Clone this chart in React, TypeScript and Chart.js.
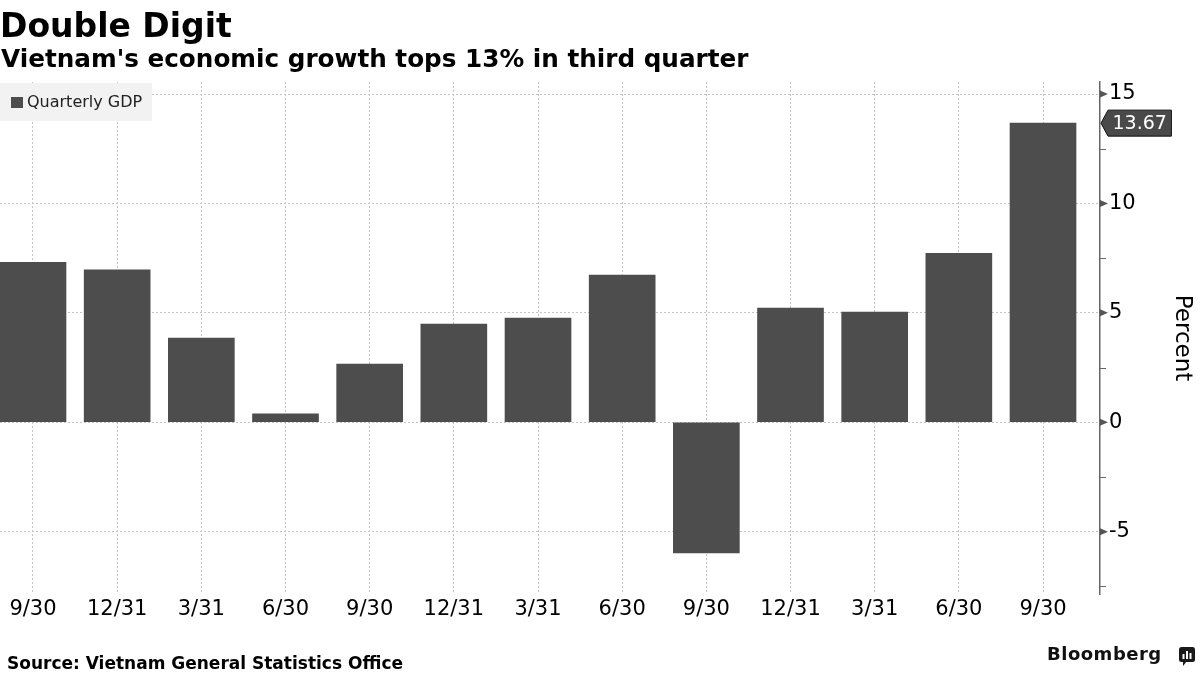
import React, { useEffect, useRef } from "react";
import { Chart, registerables } from "chart.js";

Chart.register(...registerables);

const categories = ["9/30", "12/31", "3/31", "6/30", "9/30", "12/31", "3/31", "6/30", "9/30", "12/31", "3/31", "6/30", "9/30"];
const gdpValues = [7.31, 6.97, 3.85, 0.39, 2.66, 4.49, 4.76, 6.73, -5.97, 5.22, 5.04, 7.72, 13.67];
const yTicks = [-5, 0, 5, 10, 15];
const yMinorTicks = [-7.5, -2.5, 2.5, 7.5, 12.5];
const seriesName = "Quarterly GDP";
const yTitle = "Percent";
const lastValueLabel = "13.67";
const titleText = "Double Digit";
const subtitleText = "Vietnam's economic growth tops 13% in third quarter";
const sourceText = "Source: Vietnam General Statistics Office";
const brandText = "Bloomberg";

const FONT = "'DejaVu Sans', Verdana, sans-serif";
const BAR_COLOR = "#4d4d4d";
const GRID_COLOR = "#c4c4c4";

const overlayPlugin = {
  id: "overlay",
  afterDraw(chart: any) {
    const { ctx, chartArea, scales } = chart;
    const y = scales.y;
    const ax = chartArea.right;
    ctx.save();
    // minor ticks
    ctx.strokeStyle = "#666";
    ctx.lineWidth = 1;
    yMinorTicks.forEach((v) => {
      const py = Math.round(y.getPixelForValue(v)) + 0.5;
      ctx.beginPath();
      ctx.moveTo(ax, py);
      ctx.lineTo(ax + 6, py);
      ctx.stroke();
    });
    // major tick triangles
    ctx.fillStyle = "#555";
    yTicks.forEach((v) => {
      const py = y.getPixelForValue(v);
      ctx.beginPath();
      ctx.moveTo(ax, py - 3.5);
      ctx.lineTo(ax + 8, py);
      ctx.lineTo(ax, py + 3.5);
      ctx.closePath();
      ctx.fill();
    });
    // last value label
    const last = gdpValues[gdpValues.length - 1];
    const vy = y.getPixelForValue(last);
    ctx.font = `19px ${FONT}`;
    const tw = ctx.measureText(lastValueLabel).width;
    const h = 26;
    const rx = ax + 8;
    const rw = tw + 9;
    ctx.beginPath();
    ctx.moveTo(ax + 1, vy);
    ctx.lineTo(rx, vy - h / 2);
    ctx.lineTo(rx + rw, vy - h / 2);
    ctx.lineTo(rx + rw, vy + h / 2);
    ctx.lineTo(rx, vy + h / 2);
    ctx.closePath();
    ctx.fillStyle = "#4a4a4a";
    ctx.fill();
    ctx.strokeStyle = "#111";
    ctx.lineWidth = 1;
    ctx.stroke();
    ctx.fillStyle = "#fff";
    ctx.textBaseline = "middle";
    ctx.textAlign = "left";
    ctx.fillText(lastValueLabel, rx + 4.5, vy + 1);
    // legend
    ctx.fillStyle = "#f2f2f2";
    ctx.fillRect(chartArea.left, chartArea.top + 1, 152, 38);
    ctx.fillStyle = BAR_COLOR;
    ctx.fillRect(chartArea.left + 11, chartArea.top + 15, 12, 11);
    ctx.fillStyle = "#222";
    ctx.font = `16px ${FONT}`;
    ctx.textBaseline = "middle";
    ctx.fillText(seriesName, chartArea.left + 27, chartArea.top + 21);
    // y title
    ctx.translate(1176, (chartArea.top + chartArea.bottom) / 2);
    ctx.rotate(Math.PI / 2);
    ctx.font = `23px ${FONT}`;
    ctx.fillStyle = "#000";
    ctx.textAlign = "center";
    ctx.textBaseline = "alphabetic";
    ctx.fillText(yTitle, 0, 0);
    ctx.restore();
  },
};

export default function App() {
  const canvasRef = useRef<HTMLCanvasElement | null>(null);

  useEffect(() => {
    if (!canvasRef.current) return;
    const chart = new Chart(canvasRef.current, {
      type: "bar",
      data: {
        datasets: [
          {
            label: seriesName,
            data: gdpValues.map((v, i) => ({ x: i, y: v })),
            backgroundColor: BAR_COLOR,
            borderWidth: 0,
            barThickness: 66,
          },
        ],
      },
      options: {
        responsive: false,
        animation: false,
        layout: { padding: { top: 82, bottom: 54, left: 0, right: 0 } },
        plugins: {
          legend: { display: false },
          tooltip: { enabled: false },
          title: { display: false },
        },
        scales: {
          x: {
            type: "linear",
            offset: false,
            min: -0.392,
            max: 12.677,
            afterBuildTicks: (s: any) => {
              s.ticks = categories.map((_, i) => ({ value: i }));
            },
            afterFit: (s: any) => {
              s.height = 27;
            },
            ticks: {
              callback: (v: any) => categories[v] ?? "",
              font: { family: FONT, size: 21 },
              color: "#000",
              padding: 3,
              autoSkip: false,
              maxRotation: 0,
            },
            grid: { color: GRID_COLOR, drawTicks: false, lineWidth: 1, offset: false },
            border: { display: false, dash: [2, 2] },
          },
          y: {
            position: "right",
            min: -7.85,
            max: 15.55,
            afterBuildTicks: (s: any) => {
              s.ticks = yTicks.map((v) => ({ value: v }));
            },
            afterFit: (s: any) => {
              s.width = 100;
            },
            ticks: {
              callback: (v: any) => String(v),
              font: { family: FONT, size: 21 },
              color: "#000",
              padding: 9,
            },
            grid: { color: GRID_COLOR, drawTicks: false, lineWidth: 1 },
            border: { display: true, color: "#666", width: 1.5, dash: [2, 2] },
          },
        },
      },
      plugins: [overlayPlugin],
    } as any);
    return () => chart.destroy();
  }, []);

  return (
    <div style={{ position: "absolute", left: 0, top: 0, width: 1200, height: 675, overflow: "hidden", background: "#fff" }}>
      <canvas ref={canvasRef} width={1200} height={675} style={{ position: "absolute", left: 0, top: 0 }} />
      <div style={{ position: "absolute", left: 0, top: 9, fontFamily: FONT, fontWeight: "bold", fontSize: 33, lineHeight: "33px", color: "#000", whiteSpace: "nowrap" }}>
        {titleText}
      </div>
      <div style={{ position: "absolute", left: 1, top: 47, fontFamily: FONT, fontWeight: "bold", fontSize: 24.7, lineHeight: "24.7px", color: "#000", whiteSpace: "nowrap" }}>
        {subtitleText}
      </div>
      <div style={{ position: "absolute", left: 7, top: 655, fontFamily: FONT, fontWeight: "bold", fontSize: 17, lineHeight: "17px", color: "#000", whiteSpace: "nowrap" }}>
        {sourceText}
      </div>
      <div style={{ position: "absolute", left: 1047, top: 645, fontFamily: FONT, fontWeight: "bold", fontSize: 18, lineHeight: "18px", letterSpacing: 0.5, color: "#111", whiteSpace: "nowrap" }}>
        {brandText}
      </div>
      <svg style={{ position: "absolute", left: 1179, top: 647 }} width={17} height={21} viewBox="0 0 17 21">
        <rect x={0} y={0} width={16} height={15} rx={2.5} fill="#1a1a1a" />
        <polygon points="4,14 8,14 4,19" fill="#1a1a1a" />
        <rect x={3.5} y={7} width={2} height={5} fill="#fff" />
        <rect x={7} y={4} width={2} height={8} fill="#fff" />
        <rect x={10.5} y={6} width={2} height={6} fill="#fff" />
      </svg>
    </div>
  );
}
